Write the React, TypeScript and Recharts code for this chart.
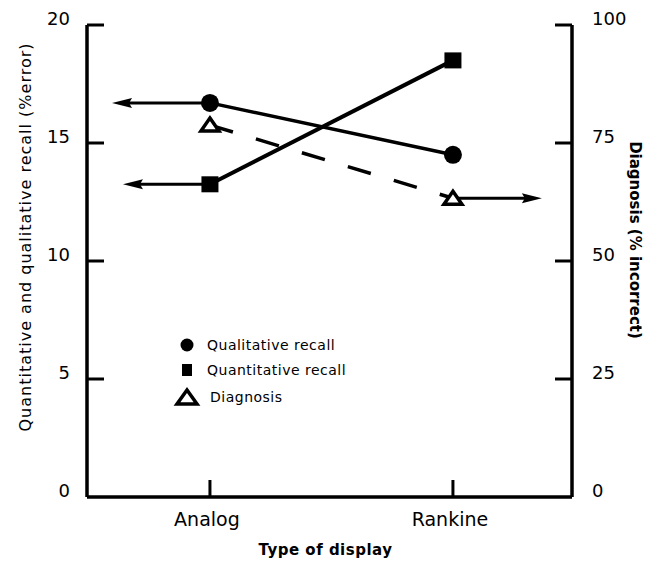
import React from 'react';
import { LineChart, Line, XAxis, YAxis, ReferenceLine, Legend, Label } from 'recharts';

// ---- data ----
const categories = ['Analog', 'Rankine'];
const categoryIndex = [0, 1];
const qualitativeRecall = [16.7, 14.5]; // % error, left axis
const quantitativeRecall = [13.25, 18.5]; // % error, left axis
const diagnosis = [78.8, 63.3]; // % incorrect, right axis
const leftTicks = [0, 5, 10, 15, 20];
const rightTicks = [0, 25, 50, 75, 100];
const xDomain = [-0.506, 1.49];
// arrow tips, in category-index units (the arrows point to the axis each series is read on)
const qualArrowTip = -0.403;
const quantArrowTip = -0.358;
const diagArrowTip = 1.366;
const seriesNames = ['Qualitative recall', 'Quantitative recall', 'Diagnosis'];

const data = categoryIndex.map((i) => ({
  idx: i,
  qual: qualitativeRecall[i],
  quant: quantitativeRecall[i],
  diag: diagnosis[i],
}));

const FONT = 'DejaVu Sans';
const INK = '#000';

const LeftTick = (props: any) => {
  const { x, y, payload } = props;
  return (
    <g>
      {payload.value !== 0 && (
        <line x1={x} y1={y} x2={x + 17} y2={y} stroke={INK} strokeWidth={3} />
      )}
      <text x={x - 17} y={y - 7} textAnchor="end" dominantBaseline="central" fontSize={18} fontFamily={FONT} fill={INK}>
        {payload.value}
      </text>
    </g>
  );
};

const RightTick = (props: any) => {
  const { x, y, payload } = props;
  return (
    <g>
      {payload.value !== 0 && (
        <line x1={x} y1={y} x2={x - 17} y2={y} stroke={INK} strokeWidth={3} />
      )}
      <text x={x + 20} y={y - 7} textAnchor="start" dominantBaseline="central" fontSize={18} fontFamily={FONT} fill={INK}>
        {payload.value}
      </text>
    </g>
  );
};

const BottomTick = (props: any) => {
  const { x, y, payload } = props;
  return (
    <g>
      <line x1={x} y1={y} x2={x} y2={y - 17} stroke={INK} strokeWidth={3} />
      <text x={x - 3} y={y + 22} textAnchor="middle" dominantBaseline="central" fontSize={19} fontFamily={FONT} fill={INK}>
        {categories[payload.value]}
      </text>
    </g>
  );
};

const LeftTitle = (props: any) => {
  const vb = props.viewBox;
  const cx = vb.x + 25;
  const cy = vb.y + vb.height / 2 - 24;
  return (
    <text x={cx} y={cy} transform={`rotate(-90, ${cx}, ${cy})`} textAnchor="middle" dominantBaseline="central"
      fontSize={16} letterSpacing={1} fontFamily={FONT} fill={INK}>
      Quantitative and qualitative recall (%error)
    </text>
  );
};

const RightTitle = (props: any) => {
  const vb = props.viewBox;
  const cx = vb.x + 63;
  const cy = vb.y + vb.height / 2 - 21;
  return (
    <text x={cx} y={cy} transform={`rotate(90, ${cx}, ${cy})`} textAnchor="middle" dominantBaseline="central"
      fontSize={15} fontWeight="bold" fontFamily={FONT} fill={INK}>
      Diagnosis (% incorrect)
    </text>
  );
};

const BottomTitle = (props: any) => {
  const vb = props.viewBox;
  const cx = vb.x + vb.width / 2 - 4;
  const cy = vb.y + 53;
  return (
    <text x={cx} y={cy} textAnchor="middle" dominantBaseline="central"
      fontSize={15} fontWeight="bold" letterSpacing={0.5} fontFamily={FONT} fill={INK}>
      Type of display
    </text>
  );
};

const CircleDot = (props: any) => {
  const { cx, cy, index } = props;
  return <circle key={`c${index}`} cx={cx} cy={cy} r={9} fill={INK} />;
};

const SquareDot = (props: any) => {
  const { cx, cy, index } = props;
  return <rect key={`s${index}`} x={cx - 8.5} y={cy - 8} width={17} height={16} fill={INK} />;
};

const TriangleDot = (props: any) => {
  const { cx, cy, index } = props;
  return (
    <polygon key={`t${index}`}
      points={`${cx},${cy - 7} ${cx + 9},${cy + 6} ${cx - 9},${cy + 6}`}
      fill="#fff" stroke={INK} strokeWidth={3.5} strokeLinejoin="miter" />
  );
};

const Arrow = (props: any) => {
  const { x1, y1, x2, y2 } = props;
  const dir = Math.sign(x2 - x1) || 1;
  const L = 20;
  const W = 5;
  return (
    <g>
      <line x1={x1} y1={y1} x2={x2 - dir * 10} y2={y2} stroke={INK} strokeWidth={3} />
      <polygon points={`${x2},${y2} ${x2 - dir * L},${y2 - W} ${x2 - dir * (L - 3)},${y2} ${x2 - dir * L},${y2 + W}`} fill={INK} />
    </g>
  );
};

const LegendContent = (props: any) => {
  const payload = props.payload || [];
  const ordered = seriesNames.map((n) => payload.find((p: any) => p.value === n) || { value: n });
  const icons = [
    <circle cx={17} cy={12} r={6.5} fill={INK} />,
    <rect x={12} y={31} width={10} height={12} fill={INK} />,
    <polygon points={`17,57 27,71 7,71`} fill="#fff" stroke={INK} strokeWidth={3.5} />,
  ];
  const ys = [12, 37, 64];
  const xs = [37, 37, 40];
  return (
    <svg width={220} height={80} style={{ display: 'block' }}>
      {ordered.map((p: any, i: number) => (
        <g key={i}>
          {icons[i]}
          <text x={xs[i]} y={ys[i]} dominantBaseline="central" fontSize={14} letterSpacing={0.5} fontFamily={FONT} fill={INK}>
            {p.value}
          </text>
        </g>
      ))}
    </svg>
  );
};

export default function App() {
  return (
    <div style={{ position: 'absolute', left: 0, top: 0, background: '#fff' }}>
      <LineChart width={651} height={563} data={data} margin={{ top: 25, right: 0, bottom: 0, left: 0 }}>
        <XAxis dataKey="idx" type="number" domain={xDomain} ticks={categoryIndex} allowDataOverflow
          height={66} tickSize={0} tickMargin={0} tick={<BottomTick />}
          axisLine={{ stroke: INK, strokeWidth: 3.5 }} tickLine={false}>
          <Label content={<BottomTitle />} />
        </XAxis>
        <YAxis yAxisId="left" orientation="left" domain={[0, 20]} ticks={leftTicks} width={87}
          tickSize={0} tickMargin={0} tick={<LeftTick />} axisLine={{ stroke: INK, strokeWidth: 3.5 }} tickLine={false}>
          <Label content={<LeftTitle />} />
        </YAxis>
        <YAxis yAxisId="right" orientation="right" domain={[0, 100]} ticks={rightTicks} width={79}
          tickSize={0} tickMargin={0} tick={<RightTick />} axisLine={{ stroke: INK, strokeWidth: 3.5 }} tickLine={false}>
          <Label content={<RightTitle />} />
        </YAxis>
        <Legend layout="horizontal" verticalAlign="middle" align="center" content={<LegendContent />}
          wrapperStyle={{ left: 170, top: 333, width: 220, height: 80 }} />
        <ReferenceLine yAxisId="left" segment={[{ x: categoryIndex[0], y: qualitativeRecall[0] }, { x: qualArrowTip, y: qualitativeRecall[0] }]}
          shape={<Arrow />} ifOverflow="visible" />
        <ReferenceLine yAxisId="left" segment={[{ x: categoryIndex[0], y: quantitativeRecall[0] }, { x: quantArrowTip, y: quantitativeRecall[0] }]}
          shape={<Arrow />} ifOverflow="visible" />
        <ReferenceLine yAxisId="right" segment={[{ x: categoryIndex[1], y: diagnosis[1] }, { x: diagArrowTip, y: diagnosis[1] }]}
          shape={<Arrow />} ifOverflow="visible" />
        <Line yAxisId="right" name={seriesNames[2]} dataKey="diag" stroke={INK} strokeWidth={3.5} strokeDasharray="24 24"
          dot={<TriangleDot />} activeDot={false} isAnimationActive={false} />
        <Line yAxisId="left" name={seriesNames[0]} dataKey="qual" stroke={INK} strokeWidth={3.5}
          dot={<CircleDot />} activeDot={false} isAnimationActive={false} />
        <Line yAxisId="left" name={seriesNames[1]} dataKey="quant" stroke={INK} strokeWidth={4}
          dot={<SquareDot />} activeDot={false} isAnimationActive={false} />
      </LineChart>
    </div>
  );
}
